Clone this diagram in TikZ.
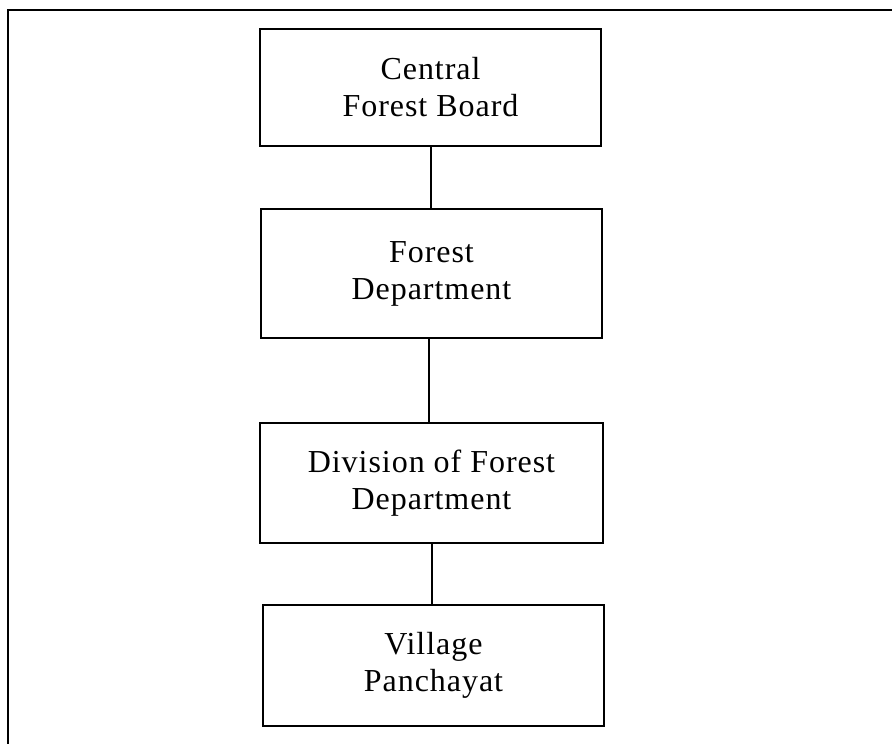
\documentclass[tikz,border=0pt]{standalone}
\usepackage{fontspec}
\setmainfont[LetterSpace=3]{Liberation Serif}
\tikzset{
  frameline/.style={line width=1.8pt, black},
  unitbox/.style={draw, line width=1.8pt, minimum width=341pt, inner sep=0pt,
    align=center, font=\fontsize{32}{37}\selectfont},
  link/.style={line width=1.5pt}
}
\begin{document}
\begin{tikzpicture}[x=1pt,y=1pt]
  \useasboundingbox (0,0) rectangle (892,744);
  \clip (0,0) rectangle (892,744);
  % outer frame, running off the right and bottom edges
  \draw[frameline] (900,734) -- (8,734) -- (8,-10);

  % hierarchy boxes
  \node[unitbox, minimum height=117pt] (board) at (430.5,656.5) {Central\\Forest Board};
  \node[unitbox, minimum height=129pt] (dept)  at (431.5,470.5) {Forest\\Department};
  \node[unitbox, minimum width=343pt, minimum height=120pt] (div) at (431.5,261) {Division of Forest\\Department};
  \node[unitbox, minimum height=121pt] (vill)  at (433.5,78.5) {Village\\Panchayat};

  % vertical links
  \draw[link] (board.south -| 431,0) -- (dept.north -| 431,0);
  \draw[link] (dept.south -| 429,0) -- (div.north -| 429,0);
  \draw[link] (div.south -| 432,0) -- (vill.north -| 432,0);
\end{tikzpicture}
\end{document}
